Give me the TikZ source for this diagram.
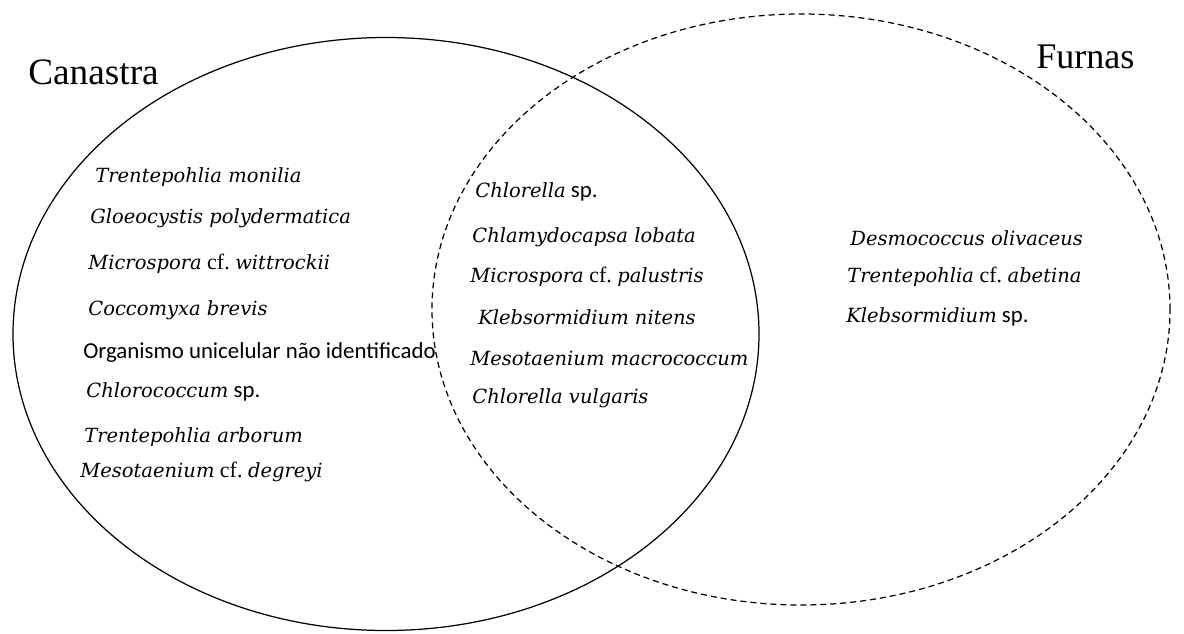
\documentclass[tikz,border=0pt]{standalone}
\usepackage{fontspec}
\setmainfont{Liberation Serif}
\newfontfamily\spfont{DejaVu Serif}
\newfontfamily\clfont{Carlito}
\usetikzlibrary{positioning}
\tikzstyle{setname} = [anchor=west, inner sep=0pt, font=\fontsize{20.5}{24}\selectfont]
\tikzstyle{taxon} = [anchor=west, inner sep=0pt, font=\spfont\itshape\fontsize{11.1}{13}\selectfont]
\tikzstyle{plain} = [anchor=west, inner sep=0pt, font=\clfont\fontsize{13}{15}\selectfont]
\tikzstyle{solidset} = [line width=0.7pt]
\tikzstyle{dashset} = [line width=0.7pt, dash pattern=on 0.12cm off 0.08cm]
\newcommand{\spp}{\textup{\clfont\fontsize{13}{15}\selectfont\ sp.}}
\newcommand{\cfr}{\textup{\rmfamily\fontsize{12.5}{15}\selectfont\ cf.\ }}

\begin{document}
\begin{tikzpicture}
  \useasboundingbox (0,0) rectangle (23.68,12.66);

  % conjuntos
  \draw[solidset] (7.72,5.98) ellipse [x radius=7.46, y radius=5.93];
  \draw[dashset] (16.02,6.47) ellipse [x radius=7.38, y radius=5.91];

  % nomes dos locais
  \node[setname, font=\fontsize{21.2}{24}\selectfont] (canastra) at (0.56,11.22) {Canastra};
  \node[setname] (furnas) at (20.72,11.52) {Furnas};

  % somente Canastra
  \node[taxon] (c1) at (1.90,9.12) {Trentepohlia monilia};
  \node[taxon] (c2) at (1.80,8.30) {Gloeocystis polydermatica};
  \node[taxon] (c3) at (1.76,7.38) {Microspora\cfr wittrockii};
  \node[taxon] (c4) at (1.76,6.46) {Coccomyxa brevis};
  \node[plain] (c5) at (1.66,5.60) {Organismo unicelular não identificado};
  \node[taxon] (c6) at (1.72,4.82) {Chlorococcum\spp};
  \node[taxon] (c7) at (1.68,3.92) {Trentepohlia arborum};
  \node[taxon] (c8) at (1.60,3.22) {Mesotaenium\cfr degreyi};

  % comuns
  \node[taxon] (m1) at (9.50,8.82) {Chlorella\spp};
  \node[taxon] (m2) at (9.44,7.92) {Chlamydocapsa lobata};
  \node[taxon] (m3) at (9.40,7.12) {Microspora\cfr palustris};
  \node[taxon] (m4) at (9.56,6.32) {Klebsormidium nitens};
  \node[taxon] (m5) at (9.40,5.50) {Mesotaenium macrococcum};
  \node[taxon] (m6) at (9.44,4.70) {Chlorella vulgaris};

  % somente Furnas
  \node[taxon] (f1) at (17.00,7.90) {Desmococcus olivaceus};
  \node[taxon] (f2) at (16.94,7.12) {Trentepohlia\cfr abetina};
  \node[taxon] (f3) at (16.92,6.32) {Klebsormidium\spp};
\end{tikzpicture}
\end{document}
